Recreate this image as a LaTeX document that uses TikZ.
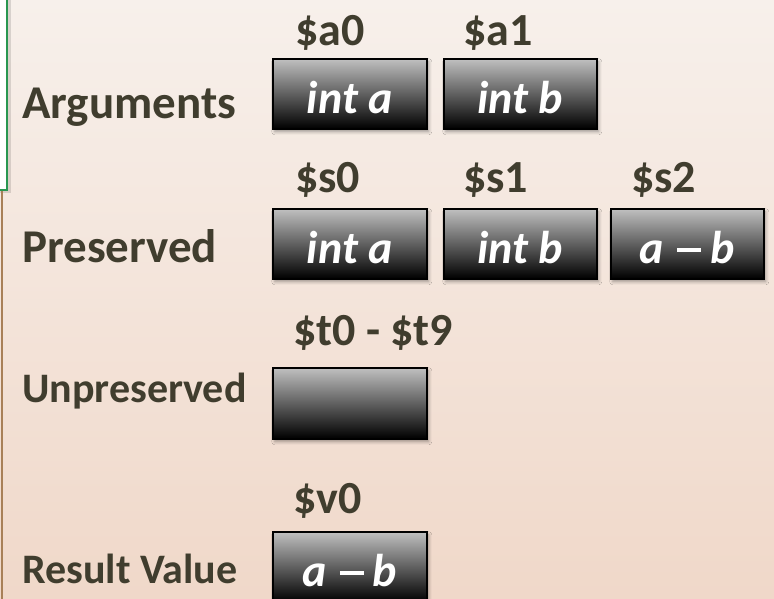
\documentclass[tikz,border=0pt]{standalone}
\usepackage{fontspec}
\setmainfont{Carlito}
\usetikzlibrary{shadows.blur}

\definecolor{bgtop}{RGB}{247,240,235}
\definecolor{bgbot}{RGB}{240,216,201}
\definecolor{ink}{RGB}{64,61,46}
\definecolor{framegreen}{RGB}{40,150,80}
\definecolor{rulebrown}{RGB}{168,128,88}
\definecolor{regtop}{RGB}{192,192,192}

% a wide dash for "a - b"
\newcommand{\widedash}{\hspace{13pt}\rule[12pt]{24pt}{4pt}\hspace{9pt}}

\tikzset{
  regbox/.style={draw=black, line width=1.5pt, top color=regtop, bottom color=black,
    minimum width=154pt, minimum height=70pt, inner sep=0pt, anchor=north west,
    text=white, font=\fontsize{46}{50}\selectfont\bfseries\itshape,
    text height=40pt, text depth=0pt,
    blur shadow={shadow xshift=2pt, shadow yshift=-3pt, shadow blur radius=3pt, shadow opacity=35}},
  reglabel/.style={anchor=base west, inner sep=0pt, text=ink,
    font=\fontsize{46}{50}\selectfont\bfseries},
  rowlabel/.style={anchor=base west, inner sep=0pt, text=ink,
    font=\fontsize{47}{50}\selectfont\bfseries},
  rowlabelsm/.style={rowlabel, font=\fontsize{42}{46}\selectfont\bfseries},
}

\begin{document}
\begin{tikzpicture}[x=1pt, y=-1pt]
  % page and background
  \useasboundingbox (0,0) rectangle (774,598);
  \shade[top color=bgtop, bottom color=bgbot] (0,0) rectangle (774,598);

  % panel edge on the left
  \fill[black, opacity=0.12] (0,0) rectangle (11,193);
  \filldraw[fill=white, draw=framegreen, line width=2.5pt] (-5,-5) rectangle (7,190);
  \draw[rulebrown, line width=2pt] (2,191) -- (2,600);

  % row titles
  \node[rowlabel] (lArgs) at (22,118) {Arguments};
  \node[rowlabel] (lPres) at (22,262) {Preserved};
  \node[rowlabelsm] (lUnpr) at (22,402) {Unpreserved};
  \node[rowlabelsm] (lRes) at (22,583) {Result Value};

  % argument registers
  \node[regbox] (a0) at (272,58) {int a};
  \node[regbox, minimum width=153pt] (a1) at (443,58) {int b};
  \node[reglabel] (ra0) at (295,45) {\$a0};
  \node[reglabel] (ra1) at (463,45) {\$a1};

  % preserved registers
  \node[regbox] (s0) at (272,208) {int a};
  \node[regbox, minimum width=153pt] (s1) at (443,208) {int b};
  \node[regbox, minimum width=153pt] (s2) at (610,208) {a\widedash b};
  \node[reglabel] (rs0) at (295,192) {\$s0};
  \node[reglabel] (rs1) at (463,192) {\$s1};
  \node[reglabel] (rs2) at (631,192) {\$s2};

  % unpreserved registers
  \node[regbox, minimum height=71pt] (t) at (272,367) {};
  \node[reglabel] (rt) at (293,345) {\$t0 - \$t9};

  % result register
  \node[regbox] (v0) at (272,531) {a\widedash b};
  \node[reglabel] (rv0) at (293,513) {\$v0};
\end{tikzpicture}
\end{document}
